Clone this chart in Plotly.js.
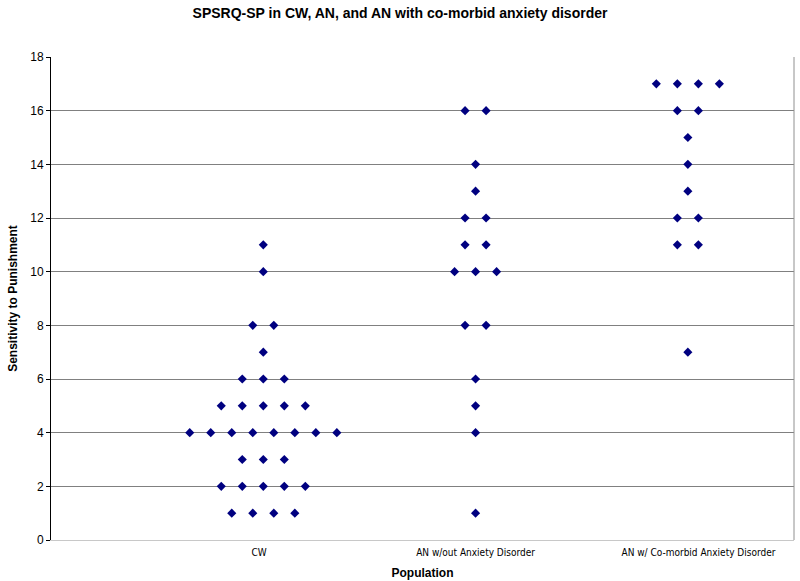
<!DOCTYPE html>
<html>
<head>
<meta charset="utf-8">
<script src="https://cdn.plot.ly/plotly-3.0.1.min.js"></script>
<style>html,body{margin:0;padding:0;background:#fff;}#chart{width:800px;height:581px;}</style>
</head>
<body>
<div id="chart"></div>
<script>
// Category labels
const categories = ["CW", "AN w/out Anxiety Disorder", "AN w/ Co-morbid Anxiety Disorder"];
// Individual scores per group
const cwScores = [11, 10, 8, 8, 7, 6, 6, 6, 5, 5, 5, 5, 5, 4, 4, 4, 4, 4, 4, 4, 4, 3, 3, 3, 2, 2, 2, 2, 2, 1, 1, 1, 1];
const anScores = [16, 16, 14, 13, 12, 12, 11, 11, 10, 10, 10, 8, 8, 6, 5, 4, 1];
const anxScores = [17, 17, 17, 17, 16, 16, 15, 14, 13, 12, 12, 11, 11, 7];
const yTicks = [0, 2, 4, 6, 8, 10, 12, 14, 16, 18];

// Beeswarm: spread equal scores symmetrically around the category position
function swarm(scores, center, step) {
  const counts = {}, seen = {};
  scores.forEach(v => counts[v] = (counts[v] || 0) + 1);
  const xs = [], ys = [];
  scores.forEach(v => {
    const i = seen[v] || 0; seen[v] = i + 1;
    xs.push(center + (i - (counts[v] - 1) / 2) * step);
    ys.push(v);
  });
  return {x: xs, y: ys};
}

const groups = [cwScores, anScores, anxScores];
const traces = groups.map((g, k) => {
  const s = swarm(g, k + 1, 0.099);
  return {
    type: "scatter", mode: "markers", x: s.x, y: s.y, name: categories[k],
    marker: {symbol: "diamond", size: 7, color: "#000080"},
    hoverinfo: "y", cliponaxis: false
  };
});

const layout = {
  width: 800, height: 581,
  margin: {l: 51, r: 6, t: 57, b: 41},
  paper_bgcolor: "#ffffff", plot_bgcolor: "#ffffff",
  showlegend: false,
  title: {text: "SPSRQ-SP in CW, AN, and AN with co-morbid anxiety disorder",
    font: {family: "Liberation Sans, Arial, sans-serif", size: 14, color: "#000", weight: "bold"},
    x: 0.5, xanchor: "center", y: 0.977, yanchor: "middle"},
  xaxis: {
    range: [0, 3.5], tickvals: [0.98, 2.0, 3.05], ticktext: categories,
    showgrid: false, zeroline: false, ticks: "", ticklabelstandoff: 3,
    showline: true, linecolor: "#c8c8c8", linewidth: 1, mirror: false,
    tickfont: {family: "DejaVu Sans Condensed, Noto Sans, sans-serif", size: 10, color: "#000"},
    title: {text: "Population", font: {family: "Liberation Sans, Arial, sans-serif", size: 12, color: "#000", weight: "bold"}, standoff: 11}
  },
  yaxis: {
    range: [0, 18], tickvals: yTicks, ticktext: yTicks.map(String),
    showgrid: true, gridcolor: "#808080", gridwidth: 1, zeroline: false,
    showline: true, linecolor: "#000", linewidth: 1,
    ticks: "outside", ticklen: 4, tickcolor: "#000",
    tickfont: {family: "Liberation Sans, Arial, sans-serif", size: 12, color: "#000"},
    title: {text: "Sensitivity to Punishment", font: {family: "Liberation Sans, Arial, sans-serif", size: 12, color: "#000", weight: "bold"}, standoff: 10}
  },
  shapes: [
    {type: "line", xref: "paper", yref: "paper", x0: 1, x1: 1, y0: 0, y1: 1, line: {color: "#909090", width: 1}}
  ]
};

Plotly.newPlot("chart", traces, layout, {displayModeBar: false, staticPlot: true});
</script>
</body>
</html>
